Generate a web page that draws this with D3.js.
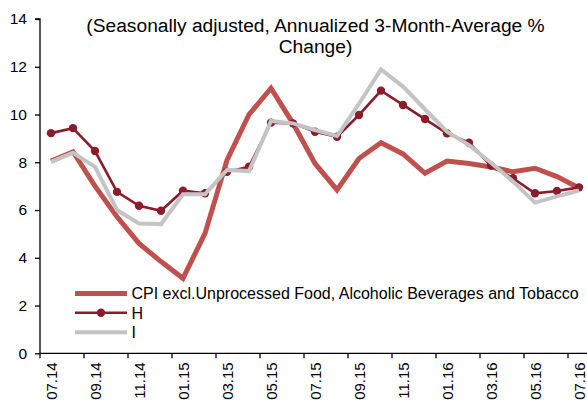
<!DOCTYPE html>
<html><head><meta charset="utf-8">
<script src="https://cdn.jsdelivr.net/npm/d3@7"></script>
<style>body{margin:0;background:#fff}svg{display:block}text{font-family:"Liberation Sans",Arial,sans-serif;fill:#000}</style>
</head><body><svg id="c" width="587" height="407"></svg>
<script>
const months = ["07.14","08.14","09.14","10.14","11.14","12.14","01.15","02.15","03.15","04.15","05.15","06.15","07.15","08.15","09.15","10.15","11.15","12.15","01.16","02.16","03.16","04.16","05.16","06.16","07.16"];
const tickLabels = ["07.14","09.14","11.14","01.15","03.15","05.15","07.15","09.15","11.15","01.16","03.16","05.16","07.16"];
const cpi = [8.05,8.44,7.0,5.72,4.6,3.84,3.14,5.02,8.09,10.0,11.1,9.63,7.95,6.84,8.16,8.82,8.35,7.54,8.05,7.95,7.8,7.6,7.75,7.4,6.92];
const h   = [9.22,9.43,8.47,6.76,6.18,5.97,6.81,6.70,7.60,7.81,9.66,9.63,9.28,9.07,9.98,11.0,10.4,9.81,9.21,8.82,7.86,7.33,6.70,6.80,6.95];
const iS  = [8.02,8.40,7.81,6.0,5.44,5.41,6.66,6.66,7.68,7.63,9.73,9.63,9.35,9.10,10.45,11.89,11.17,10.22,9.28,8.72,7.98,7.2,6.31,6.57,6.82];
const seriesNames = ["CPI excl.Unprocessed Food, Alcoholic Beverages and Tobacco","H","I"];
const yTicks = [0,2,4,6,8,10,12,14];
const titleLines = ["(Seasonally adjusted, Annualized 3-Month-Average %","Change)"];

const svg = d3.select("#c");
const mLeft = 40, mRight = 590, mTop = 19, mBottom = 353.3;
const x = d3.scaleBand().domain(months).range([mLeft, mRight]).padding(0);
const y = d3.scaleLinear().domain([0,14]).range([mBottom, mTop]);
const cx = d => x(d) + x.bandwidth()/2;

const colors = ["#c0504d","#8b1c2c","#c4c4c4"];
const widths = [5, 2.6, 4];

// title
svg.append("text").attr("x",315.5).attr("y",32).attr("text-anchor","middle").style("font-size","19.2px").text(titleLines[0]);
svg.append("text").attr("x",315.5).attr("y",52.5).attr("text-anchor","middle").style("font-size","19.2px").text(titleLines[1]);

// y axis
const ya = svg.append("g").attr("transform",`translate(${mLeft},0)`)
  .call(d3.axisLeft(y).tickValues(yTicks).tickSize(5).tickPadding(8).tickFormat(d3.format("d")));
ya.select(".domain").attr("stroke","#000").attr("stroke-width",1.3).attr("d",`M-5,${y(14)}H0V${mBottom}`);
ya.selectAll("line").attr("stroke","#000").attr("stroke-width",1.3);
ya.selectAll("text").style("font-size","15.5px").style("font-family","Liberation Sans, Arial, sans-serif");

// x axis
const xg = svg.append("g").attr("transform",`translate(0,${mBottom})`);
xg.append("line").attr("x1",mLeft).attr("x2",587).attr("y1",0).attr("y2",0).attr("stroke","#000").attr("stroke-width",1.3);
months.forEach((m,i)=>{
  if(i%2===0){
    xg.append("line").attr("x1",x(m)).attr("x2",x(m)).attr("y1",0).attr("y2",5).attr("stroke","#000").attr("stroke-width",1.3);
  }
});
tickLabels.forEach(t=>{
  xg.append("text").attr("transform",`translate(${cx(t)+5.5},9) rotate(-90)`).attr("text-anchor","end").style("font-size","15px").text(t);
});

// lines
const line = d3.line().x((d,i)=>cx(months[i])).y(d=>y(d));
[cpi,h,iS].forEach((s,k)=>{
  svg.append("path").datum(s).attr("d",line).attr("fill","none").attr("stroke",colors[k]).attr("stroke-width",widths[k]).attr("stroke-linejoin","miter");
  if(k===1){
    svg.append("g").selectAll("circle").data(s).join("circle").attr("cx",(d,i)=>cx(months[i])).attr("cy",d=>y(d)).attr("r",4.2).attr("fill",colors[1]);
  }
});

// legend
const ly = [293.5,312.8,332.2];
seriesNames.forEach((n,k)=>{
  svg.append("line").attr("x1",75).attr("x2",127).attr("y1",ly[k]).attr("y2",ly[k]).attr("stroke",colors[k]).attr("stroke-width",widths[k]);
  if(k===1) svg.append("circle").attr("cx",101).attr("cy",ly[k]).attr("r",4.2).attr("fill",colors[1]);
  svg.append("text").attr("x",131.5).attr("y",ly[k]+5.8).style("font-size","16px").text(n);
});
</script></body></html>
